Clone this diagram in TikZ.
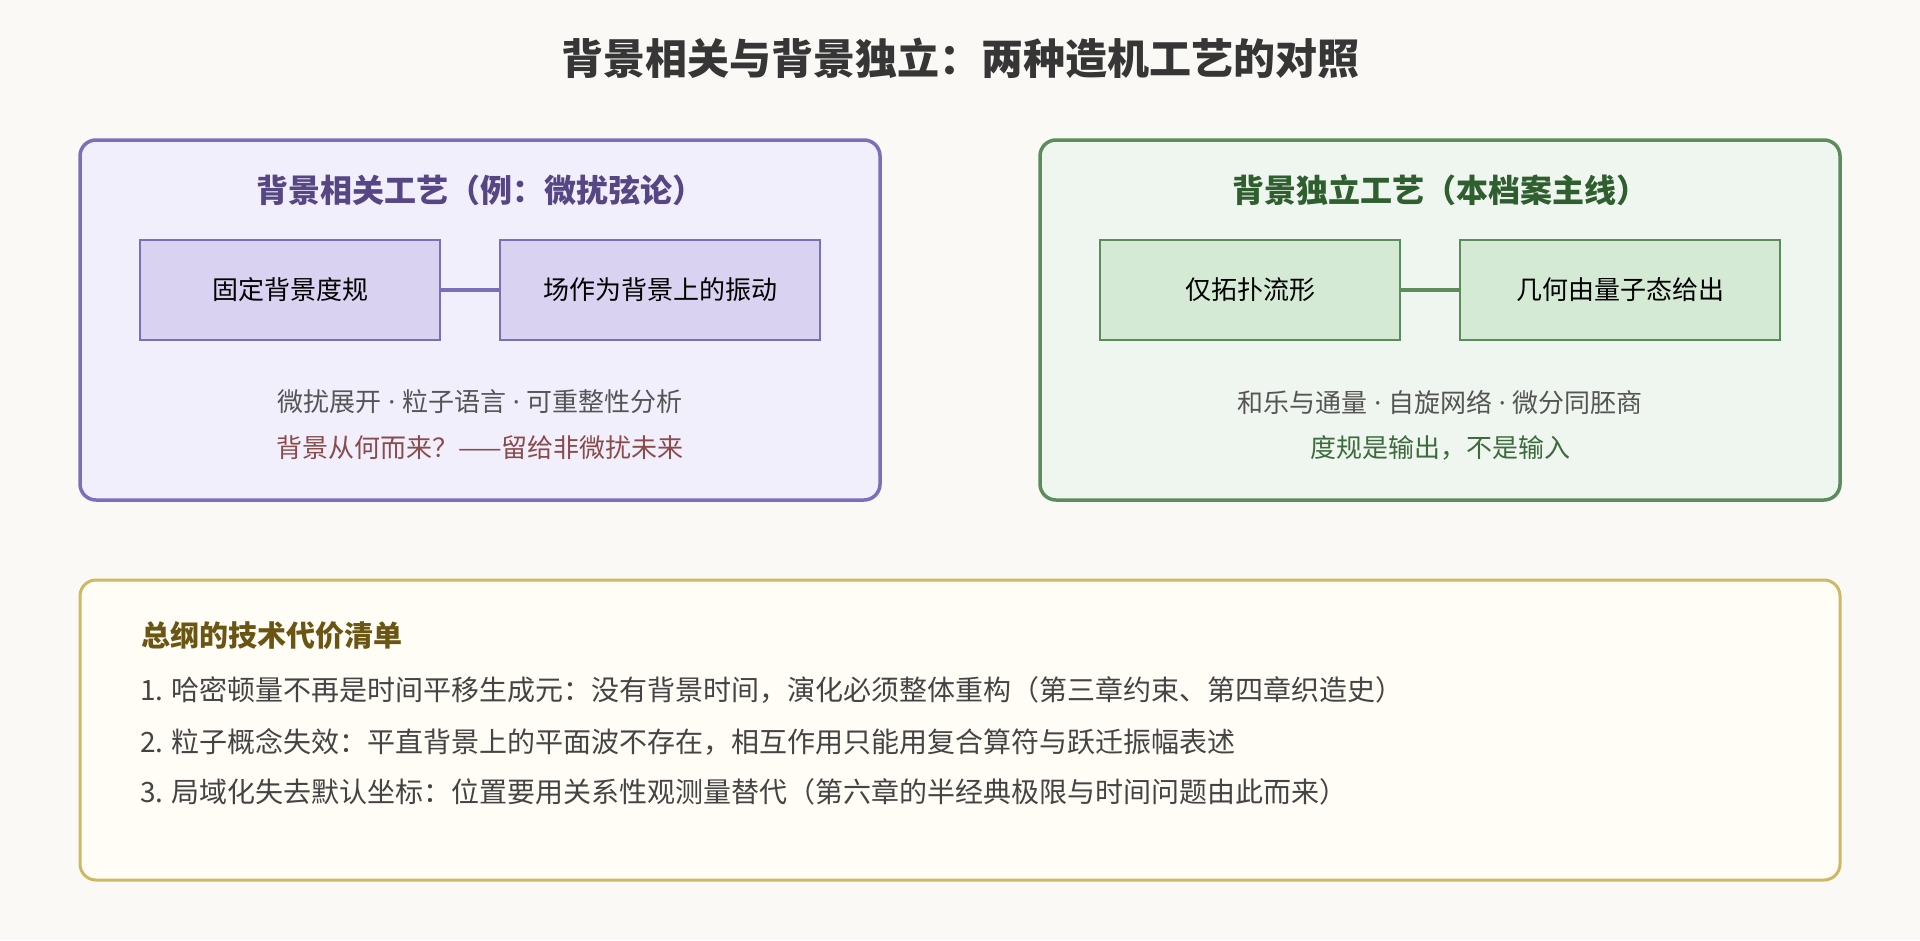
\documentclass[tikz,border=0pt]{standalone}
\usepackage{fontspec}
\setmainfont{Noto Sans CJK SC}
\newfontfamily\latinf{Noto Sans}
\newcommand{\middot}{{\latinf\ ·\ }}
\definecolor{bgc}{HTML}{FAF9F5}
\definecolor{titlec}{HTML}{363636}
\definecolor{pline}{HTML}{7B6FBA}
\definecolor{pfill}{HTML}{F2EFFD}
\definecolor{pinner}{HTML}{D9D2F0}
\definecolor{ptitle}{HTML}{574684}
\definecolor{pnote}{HTML}{8A4B4B}
\definecolor{gline}{HTML}{5C8C5C}
\definecolor{gfill}{HTML}{EFF6EF}
\definecolor{ginner}{HTML}{D4EAD4}
\definecolor{gtitle}{HTML}{2F5F2F}
\definecolor{gnote}{HTML}{3D6B3D}
\definecolor{yline}{HTML}{CDB964}
\definecolor{yfill}{HTML}{FFFDF6}
\definecolor{ytitle}{HTML}{6B5512}
\definecolor{graytext}{HTML}{555555}
\definecolor{listtext}{HTML}{444444}
\tikzset{
  panel/.style={draw, line width=3.5pt, rounded corners=16pt, inner sep=0pt},
  innerbox/.style={draw, line width=2pt, inner sep=0pt, minimum height=100pt,
    font=\fontsize{26}{30}\selectfont, text=black},
  boxtitle/.style={font=\fontsize{32}{38}\selectfont\bfseries, inner sep=0pt},
  subline/.style={font=\fontsize{26}{30}\selectfont, inner sep=0pt},
  listline/.style={font=\fontsize{28}{34}\selectfont, text=listtext, inner sep=0pt, anchor=west},
  link/.style={line width=3.5pt}
}
\begin{document}
\begin{tikzpicture}[x=1pt,y=-1pt]
\fill[bgc] (0,0) rectangle (1920,940);
\useasboundingbox (0,0) rectangle (1920,940);

\node[font=\fontsize{42}{48}\selectfont\bfseries, text=titlec, inner sep=0pt] (title) at (960,58) {背景相关与背景独立：两种造机工艺的对照};

% left panel
\node[panel, draw=pline, fill=pfill, minimum width=800pt, minimum height=360pt] (lp) at (480,320) {};
\node[boxtitle, text=ptitle] (lt) at (480,190) {背景相关工艺（例：微扰弦论）};
\node[innerbox, draw=pline, fill=pinner, minimum width=300pt] (lb1) at (290,290) {固定背景度规};
\node[innerbox, draw=pline, fill=pinner, minimum width=320pt] (lb2) at (660,290) {场作为背景上的振动};
\draw[link, pline] (lb1.east) -- (lb2.west);
\node[subline, text=graytext] (ls1) at (480,402) {微扰展开\middot 粒子语言\middot 可重整性分析};
\node[subline, text=pnote] (ls2) at (480,448) {背景从何而来？——留给非微扰未来};

% right panel
\node[panel, draw=gline, fill=gfill, minimum width=800pt, minimum height=360pt] (rp) at (1440,320) {};
\node[boxtitle, text=gtitle] (rt) at (1440,190) {背景独立工艺（本档案主线）};
\node[innerbox, draw=gline, fill=ginner, minimum width=300pt] (rb1) at (1250,290) {仅拓扑流形};
\node[innerbox, draw=gline, fill=ginner, minimum width=320pt] (rb2) at (1620,290) {几何由量子态给出};
\draw[link, gline] (rb1.east) -- (rb2.west);
\node[subline, text=graytext] (rs1) at (1440,402) {和乐与通量\middot 自旋网络\middot 微分同胚商};
\node[subline, text=gnote] (rs2) at (1440,448) {度规是输出，不是输入};

% bottom panel
\node[panel, line width=3pt, draw=yline, fill=yfill, minimum width=1760pt, minimum height=300pt] (bp) at (960,730) {};
\node[font=\fontsize{29}{34}\selectfont\bfseries, text=ytitle, inner sep=0pt, anchor=west] (bt) at (141,635) {总纲的技术代价清单};
\node[listline] (l1) at (140,690) {1. 哈密顿量不再是时间平移生成元：没有背景时间，演化必须整体重构（第三章约束、第四章织造史）};
\node[listline] (l2) at (140,742) {2. 粒子概念失效：平直背景上的平面波不存在，相互作用只能用复合算符与跃迁振幅表述};
\node[listline] (l3) at (140,792) {3. 局域化失去默认坐标：位置要用关系性观测量替代（第六章的半经典极限与时间问题由此而来）};
\end{tikzpicture}
\end{document}
